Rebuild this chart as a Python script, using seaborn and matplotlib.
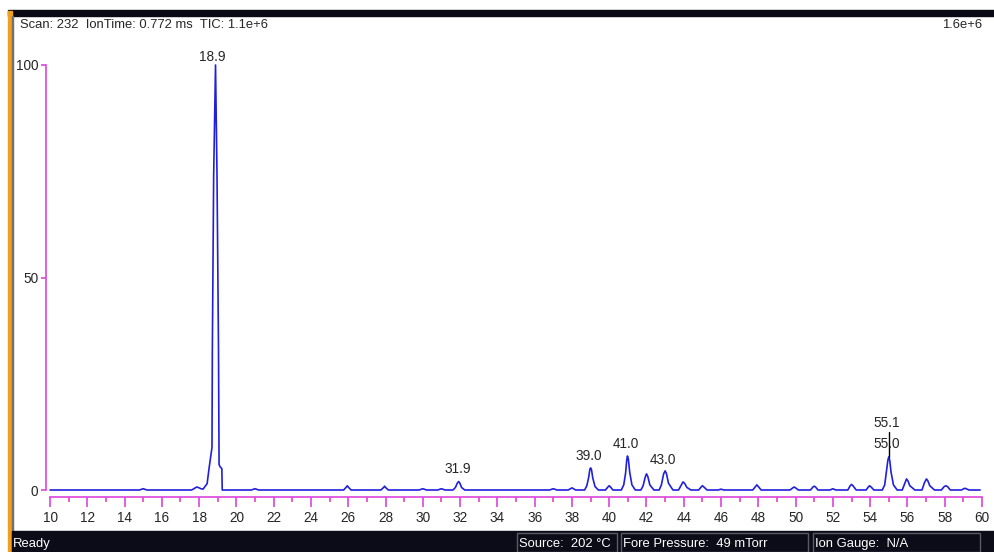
import pandas as pd
import matplotlib.pyplot as plt
import seaborn as sns
from matplotlib.patches import Rectangle

# -----------------------------
# spectrum trace (m/z, relative abundance %)
# -----------------------------
mz = [10.0, 14.8, 15.0, 15.2,
      17.6, 17.8, 17.87, 17.95, 18.1, 18.21, 18.43, 18.53, 18.69, 18.71, 18.78, 18.88,
      18.96, 19.04, 19.07, 19.12, 19.22, 19.24,
      20.8, 21.0, 21.2,
      25.75, 25.9, 25.95, 26.0, 26.15, 27.75, 27.9, 27.95, 28.0, 28.15,
      29.8, 30.0, 30.2, 30.8, 31.0, 31.2,
      31.62, 31.75, 31.85, 31.92, 31.99, 32.08, 32.25,
      36.8, 37.0, 37.2, 37.8, 38.0, 38.2,
      38.68, 38.8, 38.9, 38.96, 39.0, 39.05, 39.12, 39.24, 39.42,
      39.8, 39.93, 40.0, 40.07, 40.2,
      40.65, 40.78, 40.88, 40.94, 40.98, 41.03, 41.1, 41.22, 41.4,
      41.7, 41.82, 41.93, 42.0, 42.07, 42.18, 42.4,
      42.68, 42.8, 42.92, 43.0, 43.07, 43.18, 43.42,
      43.72, 43.87, 43.96, 44.04, 44.17, 44.38,
      44.8, 44.93, 45.0, 45.08, 45.25,
      45.85, 46.0, 46.15,
      47.7, 47.85, 47.92, 48.0, 48.15, 49.7, 49.85, 49.92, 50.0, 50.15,
      50.8, 50.93, 51.0, 51.07, 51.2,
      51.85, 52.0, 52.15, 52.8, 52.93, 53.0, 53.08, 53.25, 53.78, 53.9, 53.97, 54.05, 54.2,
      54.65, 54.78, 54.88, 54.95, 55.0, 55.05, 55.12, 55.25, 55.45,
      55.72, 55.86, 55.95, 56.02, 56.13, 56.4,
      56.78, 56.92, 57.02, 57.09, 57.2, 57.45,
      57.82, 57.97, 58.06, 58.15, 58.3, 58.9, 59.02, 59.08, 59.15, 59.3, 59.9]
intensity = [0.0, 0.0, 0.3, 0.0,
             0.0, 0.5, 0.7, 0.6, 0.3, 0.2, 1.5, 5.0, 10.0, 33.0, 74.0, 100.0,
             74.0, 33.0, 6.0, 5.5, 5.0, 0.0,
             0.0, 0.3, 0.0,
             0.0, 0.7, 1.0, 0.7, 0.0, 0.0, 0.6, 0.9, 0.6, 0.0,
             0.0, 0.3, 0.0, 0.0, 0.3, 0.0,
             0.0, 0.6, 1.6, 2.0, 1.6, 0.6, 0.0,
             0.0, 0.3, 0.0, 0.0, 0.5, 0.0,
             0.0, 1.0, 3.0, 4.8, 5.2, 4.8, 2.8, 0.8, 0.0,
             0.0, 0.7, 1.0, 0.7, 0.0,
             0.0, 1.2, 4.0, 7.0, 8.0, 7.2, 4.2, 1.2, 0.0,
             0.0, 1.0, 3.0, 3.8, 3.2, 1.2, 0.0,
             0.0, 1.2, 3.8, 4.5, 3.9, 1.6, 0.0,
             0.0, 1.2, 1.9, 1.6, 0.6, 0.0,
             0.0, 0.7, 1.0, 0.7, 0.0,
             0.0, 0.2, 0.0,
             0.0, 0.8, 1.2, 0.8, 0.0, 0.0, 0.5, 0.7, 0.5, 0.0,
             0.0, 0.7, 0.9, 0.7, 0.0,
             0.0, 0.3, 0.0, 0.0, 1.0, 1.3, 1.0, 0.0, 0.0, 0.7, 1.0, 0.7, 0.0,
             0.0, 1.2, 4.5, 7.0, 7.8, 7.0, 4.2, 1.2, 0.0,
             0.0, 1.6, 2.6, 2.2, 1.0, 0.0,
             0.0, 1.8, 2.6, 2.2, 1.0, 0.0,
             0.0, 0.8, 1.0, 0.8, 0.0, 0.0, 0.3, 0.4, 0.3, 0.0, 0.0]

# peak labels
peak_text = ["18.9", "31.9", "39.0", "41.0", "43.0", "55.1", "55.0"]
peak_x = [18.70, 31.85, 38.88, 40.9, 42.89, 54.91, 54.87]
peak_y = [101.0, 4.0, 7.0, 9.9, 6.2, 14.8, 9.9]

header = "Scan: 232  IonTime: 0.772 ms  TIC: 1.1e+6"
scale_text = "1.6e+6"
status_items = ["Source:  202 °C", "Fore Pressure:  49 mTorr", "Ion Gauge:  N/A"]

df = pd.DataFrame({"mz": mz, "intensity": intensity})

W, H = 995, 552
MAG = "#dd44dd"
FONT = ["Liberation Sans", "DejaVu Sans"]

sns.set_style("white")
plt.rcParams["font.family"] = FONT

fig = plt.figure(figsize=(W / 100, H / 100), dpi=100)


def fx(px):
    return px / W


def fy(py):
    return 1 - py / H


# plot area: m/z 10 at x=50px, 60 at x=982px ; 0% at y=490px, 100% at y=65px
ax = fig.add_axes([fx(50), fy(490), (982 - 50) / W, (490 - 65) / H])
sns.lineplot(data=df, x="mz", y="intensity", ax=ax, color="#2020dc",
             linewidth=1.2, estimator=None, sort=False, clip_on=False)

ax.set_xlim(10, 60)
ax.set_ylim(0, 100)
ax.set_xlabel("")
ax.set_ylabel("")
ax.set_xticks(range(10, 61, 2))
ax.set_xticks(range(11, 60, 2), minor=True)
ax.set_yticks([0, 50, 100])

for s in ["top", "right"]:
    ax.spines[s].set_visible(False)
ax.spines["bottom"].set_position(("outward", 5))
ax.spines["left"].set_position(("outward", 3))
ax.spines["bottom"].set_bounds(10, 60)
ax.spines["left"].set_bounds(0, 100)
for s in ["bottom", "left"]:
    ax.spines[s].set_color(MAG)
    ax.spines[s].set_linewidth(1.2)

ax.tick_params(axis="x", which="major", direction="out", length=7, width=1.2,
               color=MAG, labelsize=9.8, pad=3, bottom=True)
ax.tick_params(axis="x", which="minor", direction="out", length=3.8, width=1.2,
               color=MAG, bottom=True)
ax.tick_params(axis="y", which="major", direction="out", length=3.5, width=1.2,
               color=MAG, labelsize=9.8, pad=2, left=True)

for t, x, y in zip(peak_text, peak_x, peak_y):
    ax.text(x, y, t, ha="center", va="baseline", fontsize=9.8, clip_on=False)
# marker line for the split 55.0 / 55.1 label
ax.plot([55.03, 55.03], [7.8, 13.7], color="black", linewidth=1.0, clip_on=False)

# window chrome
fig.patches.append(Rectangle((fx(8), fy(16)), 1 - fx(8), 6 / H,
                             transform=fig.transFigure, color="#0a0a16", zorder=0))
fig.patches.append(Rectangle((fx(8), 0), 4 / W, fy(11),
                             transform=fig.transFigure, color="#f0a020", zorder=0))
fig.patches.append(Rectangle((fx(12), 0), 1.5 / W, fy(16),
                             transform=fig.transFigure, color="#707070", zorder=0))
fig.patches.append(Rectangle((fx(12), 0), 1 - fx(12), (H - 531) / H,
                             transform=fig.transFigure, color="#0c0c18", zorder=0))

fig.text(fx(20), fy(25), header, fontsize=9.4, va="center", ha="left")
fig.text(fx(982), fy(25), scale_text, fontsize=9.4, va="center", ha="right")
fig.text(fx(13), fy(544), "Ready", fontsize=9.4, va="center", ha="left", color="white")

boxes = [(517, 617), (621, 808), (813, 980)]
for (x0, x1), label in zip(boxes, status_items):
    fig.patches.append(Rectangle((fx(x0), 0), (x1 - x0) / W, (H - 533) / H,
                                 transform=fig.transFigure, fill=False,
                                 edgecolor="#5a5a66", linewidth=1.0, zorder=1))
    fig.text(fx(x0 + 2), fy(544), label, fontsize=9.4, va="center", ha="left",
             color="white")

fig.savefig("out.png", dpi=100)
